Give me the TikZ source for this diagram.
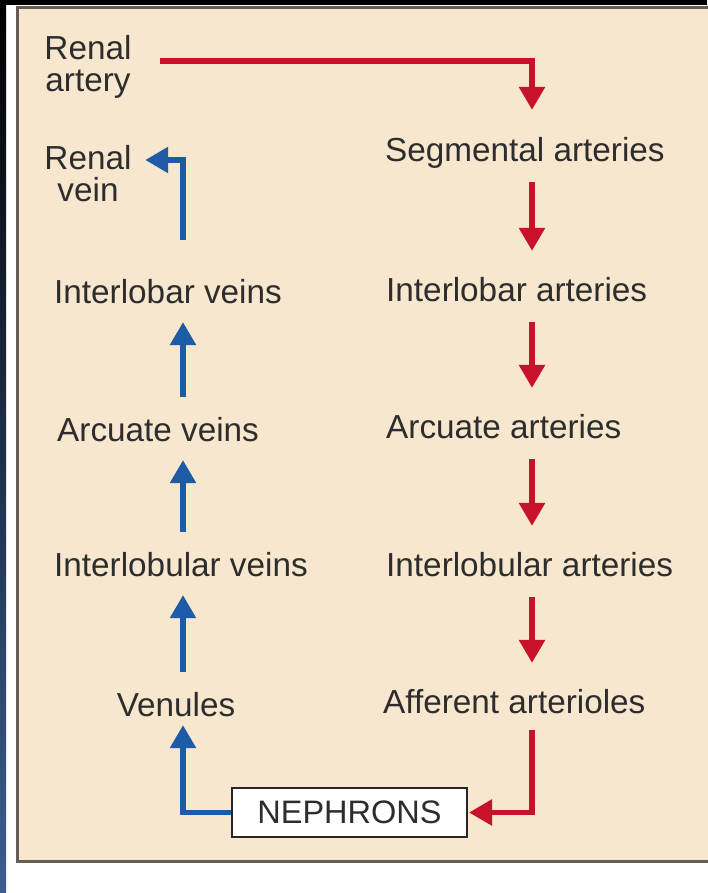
\documentclass[tikz,border=0pt]{standalone}
\usepackage{fontspec}
\setmainfont{Liberation Sans}
\usetikzlibrary{arrows.meta}
\definecolor{panel}{RGB}{247,231,207}
\definecolor{rline}{RGB}{200,18,44}
\definecolor{bline}{RGB}{29,91,166}
\definecolor{txt}{RGB}{45,45,45}
\definecolor{frame}{RGB}{100,94,86}
\definecolor{navy}{RGB}{60,94,143}
\begin{document}
\begin{tikzpicture}[x=1pt,y=-1pt,
  lbl/.style={text=txt, font=\fontsize{33.3}{33}\selectfont, inner sep=0pt, text height=23.8pt, text depth=0pt},
  lbl2/.style={text=txt, font=\fontsize{33.3}{32}\selectfont, inner sep=0pt, align=center, anchor=north},
  ra/.style={draw=rline, line width=5.5pt, line join=miter, -{Triangle[length=23pt,width=25pt]}},
  ba/.style={draw=bline, line width=5.5pt, line join=miter, -{Triangle[length=23pt,width=25pt]}},
  rv/.style={ra, shorten <=20pt, shorten >=27pt},
  bv/.style={ba, shorten <=21pt, shorten >=18pt},
  boxnode/.style={draw=black!85, fill=white, line width=2pt, minimum width=235pt, minimum height=49pt, inner sep=0pt, text=txt, font=\fontsize{32.5}{32}\selectfont}
]
\useasboundingbox (0,0) rectangle (707,893);
% background
\fill[white] (0,0) rectangle (707,893);
\shade[top color=black, middle color={rgb,255:red,20;green,32;blue,60}, bottom color=navy] (0,0) rectangle (6,893);
\fill[black] (0,0) rectangle (707,5);
\filldraw[fill=panel, draw=frame, line width=3pt] (17.5,7.5) rectangle (712,861.5);

% left column
\node[lbl2] (rart) at (88,35.3) {Renal\\artery};
\node[lbl2] (rv) at (88,145.3) {Renal\\vein};
\node[lbl, anchor=west] (ilv) at (54,292) {Interlobar veins};
\node[lbl, anchor=west] (acv) at (57,430) {Arcuate veins};
\node[lbl, anchor=west] (ilbv) at (54,565) {Interlobular veins};
\node[lbl] (ven) at (176,705) {Venules};

% right column
\node[lbl, anchor=west] (seg) at (385,150) {Segmental arteries};
\node[lbl, anchor=west] (ila) at (386,290) {Interlobar arteries};
\node[lbl, anchor=west] (aca) at (386,427) {Arcuate arteries};
\node[lbl, anchor=west] (ilba) at (386,565) {Interlobular arteries};
\node[lbl, anchor=west] (aff) at (383,702) {Afferent arterioles};

% nephrons
\node[boxnode] (neph) at (349.5,812.5) {NEPHRONS};

% helper coordinates
\coordinate (rx) at (532,0);
\coordinate (bx) at (183,0);
\coordinate (rabend) at (532,61);
\coordinate (rvbend) at (183,160);

% arterial path
\draw[ra, shorten <=28.5pt, shorten >=28pt] (rart.east |- rabend) -- (rabend) -- (seg.north -| rabend);
\draw[rv] (seg.south -| rx) -- (ila.north -| rx);
\draw[rv] (ila.south -| rx) -- (aca.north -| rx);
\draw[rv] (aca.south -| rx) -- (ilba.north -| rx);
\draw[rv] (ilba.south -| rx) -- (aff.north -| rx);
\draw[ra, shorten <=16pt, shorten >=1pt] (aff.south -| rx) |- (neph.east);

% venous path
\draw[ba, shorten >=8pt] (neph.west) -| (ven.south -| bx);
\draw[bv] (ven.north -| bx) -- (ilbv.south -| bx);
\draw[bv] (ilbv.north -| bx) -- (acv.south -| bx);
\draw[bv] (acv.north -| bx) -- (ilv.south -| bx);
\draw[ba, shorten <=40pt, shorten >=13.5pt] (ilv.north -| bx) |- (rv.east |- rvbend);
\end{tikzpicture}
\end{document}
